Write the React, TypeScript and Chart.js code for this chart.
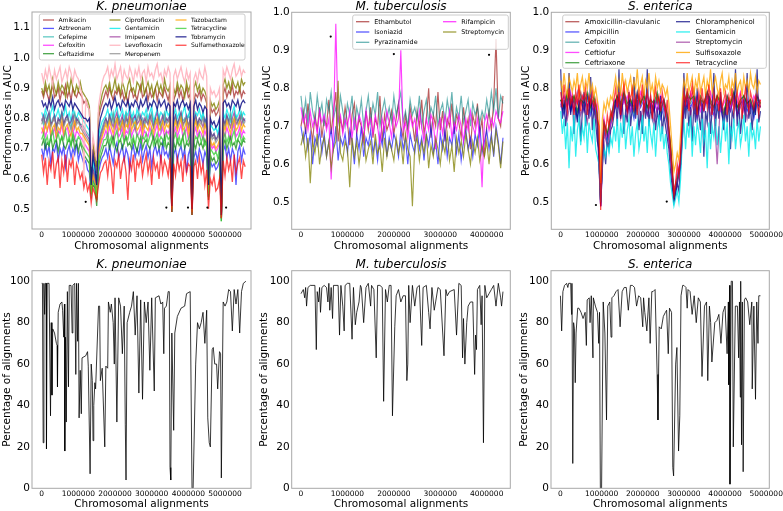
import React, { useEffect, useRef } from "react";
import { Chart, registerables } from "chart.js";
Chart.register(...registerables);

const FONT = '"DejaVu Sans", sans-serif';

// ---------------- K. pneumoniae (AUC) ----------------
const KP_X = [0,5e4,10e4,15e4,20e4,25e4,30e4,35e4,40e4,45e4,50e4,55e4,60e4,65e4,70e4,75e4,80e4,85e4,90e4,95e4,100e4,105e4,110e4,115e4,120e4,125e4,130e4,135e4,140e4,145e4,150e4,155e4,160e4,165e4,170e4,175e4,180e4,185e4,190e4,195e4,200e4,205e4,210e4,215e4,220e4,225e4,230e4,235e4,240e4,245e4,250e4,255e4,260e4,265e4,270e4,275e4,280e4,285e4,290e4,295e4,300e4,305e4,310e4,315e4,320e4,325e4,330e4,335e4,340e4,345e4,350e4,355e4,360e4,365e4,370e4,375e4,380e4,385e4,390e4,395e4,400e4,405e4,410e4,415e4,420e4,425e4,430e4,435e4,440e4,445e4,450e4,455e4,460e4,465e4,470e4,475e4,480e4,485e4,490e4,495e4,500e4,505e4,510e4,515e4,520e4,525e4,530e4,535e4,540e4,545e4,550e4,555e4];
const KP_NAMES = ["Amikacin","Aztreonam","Cefepime","Cefoxitin","Ceftazidime","Ciprofloxacin","Gentamicin","Imipenem","Levofloxacin","Meropenem","Tazobactam","Tetracycline","Tobramycin","Sulfamethoxazole"];
const KP_AMIKACIN = [.89,.87,.90,.88,.86,.89,.91,.87,.88,.90,.86,.89,.88,.91,.87,.89,.86,.90,.88,.87,.89,.88, .87,.85,.86,.84,.83, .60, .70,.66, .62, .80,.83,.85,.87, .89,.87,.90,.88,.86,.89,.88,.90,.87,.89,.86,.88,.85,.89,.90,.87,.88,.86,.89,.91,.87,.88,.90,.86,.89,.87,.88,.90,.86,.89,.88,.87,.90,.88,.86,.89, .52, .86,.88,.90,.87,.89,.86,.88,.90,.87,.88, .51, .86,.88,.87,.89,.86,.88,.87,.85, .60, .84,.82,.83,.81,.82,.84, .50, .88,.90,.87,.89,.88,.91,.87,.89,.88,.90,.87,.89,.88];
const KP_AZTREONAM = [.70,.67,.72,.68,.71,.65,.70,.69,.72,.66,.70,.68,.71,.64,.69,.71,.67,.70,.68,.72,.66,.69, .67,.65,.66,.63,.62, .55, .60,.58, .53, .62,.65,.67,.68, .70,.67,.71,.68,.65,.70,.72,.67,.69,.71,.66,.70,.68,.63,.69,.71,.67,.70,.68,.72,.66,.69,.71,.67,.70,.64,.69,.71,.68,.70,.66,.72,.68,.69,.67,.70, .49, .68,.70,.66,.69,.71,.67,.70,.62,.68,.70, .48, .67,.69,.66,.70,.68,.65,.69,.67, .54, .66,.64,.65,.63,.64,.66, .47, .69,.71,.67,.70,.66,.70,.68,.58,.69,.71,.66,.70,.68];
const KP_CEFEPIME = [.80,.78,.81,.79,.82,.78,.80,.81,.77,.80,.79,.82,.78,.80,.81,.79,.77,.80,.82,.79,.80,.78, .78,.77,.76,.75,.74, .56, .64,.62, .55, .72,.75,.77,.79, .80,.78,.81,.79,.82,.78,.80,.81,.77,.80,.79,.82,.78,.80,.81,.79,.77,.80,.82,.79,.80,.78,.81,.79,.80,.82,.78,.80,.79,.81,.77,.80,.82,.79,.80,.81, .50, .79,.81,.78,.80,.82,.79,.80,.78,.81,.80, .49, .79,.81,.78,.80,.79,.81,.78,.80, .56, .76,.74,.75,.73,.74,.76, .47, .80,.78,.81,.79,.82,.78,.80,.81,.79,.80,.82,.79,.80];
const KP_CEFOXITIN = [.75,.77,.74,.76,.78,.74,.75,.77,.73,.76,.75,.78,.74,.76,.77,.74,.75,.77,.73,.76,.75,.74, .73,.72,.71,.70,.69, .55, .62,.60, .54, .68,.71,.73,.74, .76,.74,.77,.75,.73,.76,.78,.74,.75,.77,.73,.76,.75,.78,.74,.76,.77,.74,.75,.77,.73,.76,.75,.74,.77,.75,.73,.76,.78,.74,.75,.77,.74,.76,.75,.77, .50, .75,.77,.74,.76,.78,.74,.75,.77,.73,.76, .49, .75,.77,.74,.76,.75,.73,.76,.74, .55, .72,.70,.71,.69,.70,.72, .47, .76,.74,.77,.75,.73,.76,.78,.74,.75,.77,.74,.76,.75];
const KP_CEFTAZIDIME = [.71,.73,.70,.72,.71,.74,.70,.72,.73,.69,.72,.74,.71,.70,.72,.73,.71,.74,.70,.72,.69,.72, .70,.68,.67,.66,.65, .56, .58,.57, .51, .64,.67,.69,.71, .71,.73,.70,.72,.74,.71,.69,.72,.73,.70,.72,.74,.71,.72,.70,.73,.71,.69,.72,.74,.70,.72,.73,.71,.70,.72,.74,.71,.73,.70,.72,.71,.74,.70,.72,.71, .49, .72,.70,.73,.71,.72,.74,.70,.72,.71,.73, .48, .72,.70,.73,.71,.72,.70,.73,.71, .53, .68,.66,.67,.65,.66,.68, .46, .71,.73,.70,.72,.74,.71,.72,.70,.73,.72,.71,.73,.72];
const KP_CIPROFLOXACIN = [.90,.88,.92,.89,.91,.87,.93,.90,.88,.92,.89,.91,.90,.87,.92,.89,.93,.90,.88,.91,.89,.92, .89,.88,.87,.86,.84, .62, .72,.68, .64, .82,.85,.88,.90, .91,.89,.92,.88,.90,.93,.89,.91,.88,.92,.90,.87,.91,.93,.89,.90,.88,.92,.91,.89,.93,.88,.90,.92,.89,.91,.87,.90,.92,.89,.91,.88,.93,.90,.89,.91, .53, .90,.88,.92,.89,.91,.90,.87,.92,.89,.91, .52, .90,.92,.89,.91,.88,.90,.89,.87, .62, .86,.84,.85,.83,.84,.86, .50, .91,.93,.90,.92,.89,.93,.91,.90,.92,.89,.93,.91,.92];
const KP_GENTAMICIN = [.82,.80,.83,.81,.79,.82,.84,.80,.81,.83,.80,.82,.81,.84,.80,.82,.79,.83,.81,.80,.82,.81, .80,.79,.78,.77,.76, .57, .66,.63, .56, .74,.77,.79,.80, .81,.83,.80,.82,.79,.82,.84,.80,.81,.83,.80,.82,.81,.84,.80,.82,.79,.83,.81,.80,.82,.81,.83,.80,.82,.84,.79,.81,.83,.80,.82,.81,.79,.83,.81,.82, .51, .81,.83,.80,.82,.79,.82,.84,.80,.81,.83, .50, .80,.82,.81,.83,.80,.82,.79,.80, .62, .78,.77,.76,.77,.75,.78, .48, .82,.80,.83,.81,.79,.82,.84,.80,.81,.83,.80,.82,.81];
const KP_IMIPENEM = [.79,.81,.78,.80,.82,.78,.79,.81,.77,.80,.79,.82,.78,.80,.81,.78,.79,.81,.77,.80,.79,.78, .77,.76,.75,.74,.73, .56, .63,.61, .55, .71,.74,.76,.78, .80,.78,.81,.79,.77,.80,.82,.78,.79,.81,.77,.80,.79,.82,.78,.80,.81,.78,.79,.81,.77,.80,.79,.78,.81,.79,.77,.80,.82,.78,.79,.81,.78,.80,.79,.81, .50, .79,.81,.78,.80,.82,.78,.79,.81,.77,.80, .50, .79,.81,.78,.80,.79,.77,.80,.78, .57, .76,.74,.75,.73,.74,.76, .48, .80,.78,.81,.79,.77,.80,.82,.78,.79,.81,.78,.80,.79];
const KP_LEVOFLOXACIN = [.95,.92,.96,.93,.97,.94,.91,.96,.93,.95,.97,.92,.94,.96,.93,.97,.95,.92,.96,.94,.93,.90, .88,.60,.86,.84,.83, .64, .74,.70, .66, .84,.88,.92,.94, .95,.97,.93,.96,.94,.98,.93,.95,.97,.92,.96,.94,.93,.97,.95,.92,.96,.94,.97,.93,.95,.96,.92,.97,.94,.95,.93,.96,.98,.94,.95,.92,.96,.94,.97,.95, .56, .94,.96,.93,.95,.97,.94,.92,.96,.93,.95, .55, .93,.95,.92,.96,.94,.93,.97,.94, .64, .90,.88,.89,.87,.88,.90, .52, .96,.94,.97,.95,.93,.96,.98,.94,.95,.97,.94,.96,.95];
const KP_MEROPENEM = [.78,.80,.77,.79,.81,.77,.79,.80,.76,.79,.78,.81,.77,.79,.80,.78,.76,.79,.81,.78,.79,.77, .76,.75,.74,.73,.72, .55, .62,.60, .54, .70,.73,.75,.77, .79,.77,.80,.78,.81,.77,.79,.80,.76,.79,.78,.81,.77,.79,.80,.78,.76,.79,.81,.78,.79,.77,.80,.78,.79,.81,.77,.79,.78,.80,.76,.79,.81,.78,.79,.80, .50, .78,.80,.77,.79,.81,.77,.79,.80,.78,.79, .49, .78,.80,.77,.79,.78,.80,.77,.79, .56, .75,.73,.74,.72,.73,.75, .47, .79,.77,.80,.78,.81,.77,.79,.80,.78,.79,.81,.78,.79];
const KP_TAZOBACTAM = [.77,.75,.78,.76,.79,.75,.77,.78,.74,.77,.76,.79,.75,.77,.78,.76,.74,.77,.79,.76,.77,.75, .75,.74,.73,.72,.71, .55, .61,.59, .54, .69,.72,.74,.76, .78,.76,.79,.77,.75,.78,.80,.76,.77,.79,.75,.78,.77,.80,.76,.78,.79,.76,.77,.79,.75,.78,.77,.76,.79,.77,.75,.78,.80,.76,.77,.79,.76,.78,.77,.79, .50, .77,.79,.76,.78,.80,.76,.77,.79,.75,.78, .49, .77,.79,.76,.78,.77,.75,.78,.76, .55, .73,.71,.72,.70,.71,.73, .47, .78,.76,.79,.77,.75,.78,.80,.76,.77,.79,.76,.78,.77];
const KP_TETRACYCLINE = [.73,.75,.72,.74,.71,.74,.76,.72,.73,.75,.72,.74,.73,.76,.72,.74,.71,.75,.73,.72,.74,.73, .71,.70,.69,.68,.67, .55, .59,.58, .53, .66,.69,.71,.73, .73,.75,.72,.74,.71,.74,.76,.72,.73,.75,.72,.74,.73,.76,.72,.74,.71,.75,.73,.72,.74,.73,.75,.72,.74,.76,.71,.73,.75,.72,.74,.73,.71,.75,.73,.74, .49, .73,.75,.72,.74,.71,.74,.76,.72,.73,.75, .48, .72,.74,.73,.75,.72,.74,.71,.72, .54, .70,.69,.68,.69,.67,.70, .46, .73,.75,.72,.74,.71,.74,.76,.72,.73,.75,.72,.74,.73];
const KP_TOBRAMYCIN = [.86,.84,.85,.83,.86,.84,.87,.83,.85,.86,.84,.85,.83,.86,.85,.84,.86,.83,.85,.84,.83,.82, .81,.80,.80,.79,.80, .58, .68,.64, .58, .76,.80,.82,.84, .85,.84,.86,.83,.85,.87,.84,.85,.83,.86,.85,.84,.86,.83,.85,.84,.86,.85,.83,.86,.84,.85,.87,.83,.85,.84,.86,.85,.83,.86,.84,.85,.86,.83,.85,.84, .51, .85,.84,.86,.83,.85,.86,.84,.85,.83,.85, .50, .84,.86,.83,.85,.84,.82,.84,.83, .58, .80,.78,.79,.77,.78,.80, .48, .85,.86,.84,.85,.83,.86,.85,.84,.86,.83,.85,.86,.85];
const KP_SULFAMETHOXAZOLE = [.68,.62,.67,.58,.66,.63,.69,.60,.65,.67,.57,.66,.62,.68,.59,.66,.64,.67,.58,.65,.63,.60, .62,.57,.60,.56,.58, .52, .57,.55, .53, .58,.62,.63,.65, .66,.61,.67,.63,.55,.66,.64,.68,.60,.65,.67,.62,.53,.66,.63,.68,.59,.66,.64,.67,.61,.65,.68,.62,.66,.58,.67,.63,.65,.60,.68,.62,.66,.64,.61,.67, .49, .65,.61,.67,.63,.66,.59,.68,.62,.65,.64, .48, .64,.66,.60,.67,.62,.65,.58,.63, .50, .60,.58,.61,.56,.57,.60, .47, .66,.61,.67,.63,.66,.59,.68,.62,.65,.67,.60,.66,.64];
const KP_SERIES = [KP_AMIKACIN,KP_AZTREONAM,KP_CEFEPIME,KP_CEFOXITIN,KP_CEFTAZIDIME,KP_CIPROFLOXACIN,KP_GENTAMICIN,KP_IMIPENEM,KP_LEVOFLOXACIN,KP_MEROPENEM,KP_TAZOBACTAM,KP_TETRACYCLINE,KP_TOBRAMYCIN,KP_SULFAMETHOXAZOLE];
const KP_DOT_X = [1.2e6,3.4e6,3.99e6,4.52e6,5.03e6];
const KP_DOT_Y = [0.524,0.505,0.505,0.505,0.505];

// ---------------- M. tuberculosis (AUC) ----------------
const MT_X = [0,5e4,10e4,15e4,20e4,25e4,30e4,35e4,40e4,45e4,50e4,55e4,60e4,65e4,70e4,75e4,80e4,85e4,90e4,95e4,100e4,105e4,110e4,115e4,120e4,125e4,130e4,135e4,140e4,145e4,150e4,155e4,160e4,165e4,170e4,175e4,180e4,185e4,190e4,195e4,200e4,205e4,210e4,215e4,220e4,225e4,230e4,235e4,240e4,245e4,250e4,255e4,260e4,265e4,270e4,275e4,280e4,285e4,290e4,295e4,300e4,305e4,310e4,315e4,320e4,325e4,330e4,335e4,340e4,345e4,350e4,355e4,360e4,365e4,370e4,375e4,380e4,385e4,390e4,395e4,400e4,405e4,410e4,415e4,420e4,425e4,430e4,435e4];
const MT_NAMES = ["Ethambutol","Isoniazid","Pyrazinamide","Rifampicin","Streptomycin"];
const MT_ETHAMBUTOL = [.70,.74,.68,.76,.71,.66,.73,.69,.75,.67,.72,.70,.77,.68,.74,.79,.66,.72,.69,.75,.71,.65,.73,.76,.68,.72,.70,.66,.74,.69,.75,.67,.72,.70,.78,.66,.73,.69,.71,.74,.68,.72,.76,.70,.67,.73,.69,.75,.71,.66,.74,.70,.77,.68,.72,.80,.67,.73,.70,.79,.69,.74,.66,.72,.70,.76,.68,.73,.71,.67,.75,.69,.72,.64,.73,.70,.76,.68,.72,.62,.70,.74,.69,.76,.93,.72,.70,.78];
const MT_ISONIAZID = [.70,.66,.69,.64,.68,.60,.67,.65,.69,.63,.68,.62,.66,.69,.64,.70,.61,.67,.65,.68,.63,.69,.66,.60,.68,.64,.70,.62,.67,.65,.69,.63,.66,.61,.68,.65,.70,.62,.67,.64,.68,.66,.62,.69,.64,.67,.60,.68,.65,.63,.69,.64,.67,.61,.68,.65,.70,.63,.66,.60,.68,.64,.69,.62,.67,.65,.70,.63,.68,.61,.66,.69,.64,.67,.62,.68,.65,.70,.63,.66,.69,.64,.68,.62,.70,.66,.60,.67];
const MT_PYRAZINAMIDE = [.78,.72,.77,.70,.79,.74,.71,.78,.73,.76,.70,.77,.74,.79,.72,.75,.71,.78,.74,.70,.76,.73,.78,.69,.75,.72,.77,.70,.74,.78,.71,.76,.73,.79,.70,.74,.77,.72,.75,.71,.78,.73,.76,.79,.71,.74,.70,.77,.73,.75,.72,.78,.70,.74,.77,.71,.75,.73,.78,.70,.74,.76,.71,.77,.73,.79,.70,.75,.72,.78,.71,.74,.77,.70,.76,.73,.75,.71,.74,.72,.77,.73,.79,.74,.80,.72,.78,.76];
const MT_RIFAMPICIN = [.75,.71,.73,.69,.74,.70,.72,.68,.74,.71,.73,.69,.72,.56,.70,.97,.71,.73,.68,.72,.70,.74,.67,.72,.69,.73,.71,.66,.74,.70,.72,.68,.73,.70,.65,.72,.69,.74,.71,.67,.73,.70,.72,.90,.69,.71,.67,.73,.70,.72,.68,.74,.70,.66,.72,.69,.73,.71,.64,.70,.72,.68,.73,.70,.74,.67,.71,.69,.73,.70,.66,.72,.69,.74,.70,.68,.72,.67,.54,.71,.73,.69,.72,.70,.74,.72,.71,.74];
const MT_STREPTOMYCIN = [.65,.68,.62,.67,.55,.66,.63,.68,.60,.65,.67,.62,.66,.59,.64,.66,.82,.63,.61,.66,.64,.54,.67,.62,.66,.60,.65,.68,.61,.64,.66,.60,.68,.63,.65,.58,.67,.62,.66,.64,.61,.67,.63,.66,.60,.68,.64,.62,.49,.65,.67,.61,.66,.63,.68,.59,.65,.62,.67,.64,.60,.66,.63,.68,.61,.65,.58,.67,.63,.66,.62,.68,.64,.60,.66,.63,.67,.61,.65,.62,.66,.60,.67,.63,.69,.65,.59,.66];
const MT_SERIES = [MT_ETHAMBUTOL,MT_ISONIAZID,MT_PYRAZINAMIDE,MT_RIFAMPICIN,MT_STREPTOMYCIN];
const MT_DOT_X = [0.64e6,2.0e6,4.05e6];
const MT_DOT_Y = [0.936,0.89,0.888];

// ---------------- S. enterica (AUC) ----------------
const SE_X = [0,81e3,162e3,243e3,324e3,405e3,486e3,567e3,648e3,729e3,810e3,891e3,972e3,1053e3,1134e3,1215e3,1296e3,1377e3,1458e3,1539e3,1620e3,1701e3,1782e3,1863e3,1944e3,2025e3,2106e3,2187e3,2268e3,2349e3,2430e3,2511e3,2592e3,2673e3,2754e3,2835e3,2916e3,2997e3,3078e3,3159e3,3240e3,3321e3,3402e3,3483e3,3564e3,3645e3,3726e3,3807e3,3888e3,3969e3,4050e3,4131e3,4212e3,4293e3,4374e3,4455e3,4536e3,4617e3,4698e3,4779e3,4860e3];
const SE_X_FINE = [0,40500,81000,121500,162000,202500,243000,283500,324000,364500,405000,445500,486000,526500,567000,607500,648000,688500,729000,769500,810000,850500,891000,931500,972000,1012500,1053000,1093500,1134000,1174500,1215000,1255500,1296000,1336500,1377000,1417500,1458000,1498500,1539000,1579500,1620000,1660500,1701000,1741500,1782000,1822500,1863000,1903500,1944000,1984500,2025000,2065500,2106000,2146500,2187000,2227500,2268000,2308500,2349000,2389500,2430000,2470500,2511000,2551500,2592000,2632500,2673000,2713500,2754000,2794500,2835000,2875500,2916000,2956500,2997000,3037500,3078000,3118500,3159000,3199500,3240000,3280500,3321000,3361500,3402000,3442500,3483000,3523500,3564000,3604500,3645000,3685500,3726000,3766500,3807000,3847500,3888000,3928500,3969000,4009500,4050000,4090500,4131000,4171500,4212000,4252500,4293000,4333500,4374000,4414500,4455000,4495500,4536000,4576500,4617000,4657500,4698000,4738500,4779000,4819500,4860000];
const SE_NAMES = ["Amoxicillin-clavulanic","Ampicillin","Cefoxitin","Ceftiofur","Ceftriaxone","Chloramphenicol","Gentamicin","Streptomycin","Sulfisoxazole","Tetracycline"];
const SE_AMOXICILLIN = [.77,.75,.79,.74,.78,.76,.79,.74,.78,.75,.77,.73,.50,.71,.68,.73,.75,.78,.76,.79,.74,.77,.75,.78,.76,.79,.75,.77,.74,.78,.76,.77,.73,.65,.53,.57,.61,.75,.78,.77,.80,.74,.77,.76,.79,.76,.75,.78,.77,.74,.77,.76,.79,.75,.76,.78,.76,.77,.74,.78,.75];
const SE_AMPICILLIN = [.76,.73,.78,.74,.77,.72,.77,.74,.78,.73,.76,.71,.49,.69,.66,.71,.74,.77,.73,.78,.74,.76,.72,.78,.75,.77,.73,.76,.74,.77,.72,.75,.71,.63,.51,.55,.59,.73,.78,.75,.77,.72,.77,.74,.78,.75,.73,.77,.75,.71,.77,.74,.78,.73,.76,.77,.74,.76,.72,.76,.75];
const SE_CEFOXITIN = [.77,.74,.78,.75,.77,.73,.78,.75,.77,.74,.76,.72,.50,.70,.67,.72,.75,.78,.74,.78,.75,.77,.73,.78,.76,.78,.74,.76,.75,.78,.73,.76,.72,.64,.52,.56,.60,.74,.78,.76,.78,.73,.77,.75,.79,.76,.74,.78,.76,.72,.78,.75,.78,.74,.76,.78,.75,.77,.73,.77,.76];
const SE_CEFTIOFUR = [.76,.78,.75,.79,.74,.77,.76,.79,.75,.77,.74,.76,.49,.72,.67,.71,.77,.75,.79,.76,.78,.74,.77,.75,.79,.76,.78,.75,.77,.74,.78,.75,.73,.63,.50,.57,.62,.77,.75,.79,.76,.78,.74,.77,.76,.79,.75,.77,.74,.76,.78,.75,.77,.76,.79,.74,.77,.75,.78,.76,.77];
const SE_CEFTRIAXONE = [.77,.75,.79,.76,.78,.74,.77,.76,.79,.75,.78,.73,.50,.71,.68,.72,.76,.78,.75,.79,.76,.77,.74,.79,.76,.78,.75,.77,.76,.79,.74,.77,.73,.65,.51,.56,.61,.76,.79,.77,.78,.74,.78,.76,.79,.77,.75,.78,.76,.73,.78,.76,.79,.75,.77,.78,.76,.77,.74,.78,.76];
const SE_CHLORAMPHENICOL = [.85,.72,.77,.70,.75,.84,.73,.78,.68,.75,.71,.77,.66,.74,.79,.70,.76,.72,.83,.69,.75,.71,.66,.64, .49, .62,.65,.60,.67,.64,.69,.70, .73,.77,.70,.85,.72,.76,.68,.74,.71,.79,.70,.75,.83,.72,.77,.69,.74,.68,.76,.72,.85,.70,.75,.72,.77,.69,.74,.71,.78,.68,.73,.70,.67,.64, .58,.54,.50,.52,.55,.53,.60, .70,.84,.72,.77,.70,.75,.66,.76,.71,.80,.73,.69,.76,.62,.74,.71,.78,.68,.75,.84,.70,.76,.72,.79,.73,.69,.75,.71,.77,.64,.74,.72,.85,.70,.76,.68,.73,.77,.71,.84,.72,.75,.69,.76,.73,.85,.71,.74];
const SE_GENTAMICIN = [.74,.68,.72,.64,.71,.59,.70,.66,.73,.62,.69,.72,.65,.70,.67,.73,.63,.71,.68,.66,.72,.64,.62,.60, .50, .60,.64,.62,.66,.63,.67,.65, .70,.66,.72,.63,.71,.67,.73,.64,.69,.72,.65,.70,.62,.68,.71,.64,.67,.73,.66,.70,.63,.72,.68,.65,.71,.62,.69,.73,.66,.70,.64,.68,.63,.60, .55,.52,.49,.51,.53,.50,.56, .66,.72,.64,.71,.67,.73,.62,.70,.65,.71,.68,.63,.72,.66,.69,.59,.71,.64,.70,.67,.72,.65,.70,.63,.69,.73,.66,.71,.60,.70,.67,.72,.64,.69,.71,.65,.68,.73,.66,.70,.62,.71,.67,.69,.64,.72,.66,.70];
const SE_STREPTOMYCIN = [.75,.78,.72,.77,.74,.79,.73,.76,.71,.77,.75,.70,.49,.68,.65,.70,.74,.77,.72,.78,.73,.76,.74,.79,.72,.76,.73,.78,.71,.75,.74,.77,.70,.62,.52,.55,.60,.75,.78,.73,.77,.72,.76,.74,.79,.73,.75,.60,.77,.72,.76,.74,.78,.73,.75,.77,.72,.76,.74,.79,.75];
const SE_SULFISOXAZOLE = [.82,.79,.84,.80,.78,.83,.81,.79,.82,.80,.84,.78,.81,.83,.79,.82,.80,.84,.79,.81,.78,.80,.77,.74, .55, .72,.76,.74,.77,.75,.78,.77, .80,.83,.79,.82,.78,.84,.80,.82,.79,.81,.83,.78,.82,.80,.85,.79,.81,.83,.78,.82,.80,.84,.79,.81,.78,.83,.80,.82,.79,.81,.80,.78,.80,.76, .70,.64,.58,.60,.63,.61,.68, .77,.82,.80,.84,.79,.81,.83,.78,.82,.80,.84,.79,.81,.83,.78,.82,.80,.85,.79,.81,.83,.80,.78,.82,.84,.79,.81,.80,.83,.78,.82,.80,.84,.79,.81,.82,.78,.83,.80,.82,.79,.84,.81,.80,.83,.79,.82,.81];
const SE_TETRACYCLINE = [.79,.75,.81,.77,.74,.80,.76,.78,.73,.79,.76,.81,.74,.78,.77,.80,.73,.78,.76,.79,.75,.77,.72,.70, .48, .66,.71,.68,.73,.70,.74,.72, .77,.80,.75,.79,.73,.78,.81,.76,.74,.79,.77,.80,.75,.78,.73,.79,.76,.81,.74,.77,.79,.75,.78,.72,.77,.80,.76,.78,.74,.79,.76,.73,.77,.70, .64,.58,.52,.55,.60,.57,.63, .72,.79,.76,.80,.74,.78,.81,.75,.77,.73,.79,.76,.80,.74,.78,.75,.81,.77,.73,.79,.76,.78,.74,.80,.75,.77,.79,.73,.78,.76,.80,.74,.77,.79,.75,.78,.72,.77,.80,.76,.74,.79,.77,.75,.78,.76,.73,.77];
const SE_SERIES = [SE_AMOXICILLIN,SE_AMPICILLIN,SE_CEFOXITIN,SE_CEFTIOFUR,SE_CEFTRIAXONE,SE_CHLORAMPHENICOL,SE_GENTAMICIN,SE_STREPTOMYCIN,SE_SULFISOXAZOLE,SE_TETRACYCLINE];
const SE_SERIES_X = [SE_X,SE_X,SE_X,SE_X,SE_X,SE_X_FINE,SE_X_FINE,SE_X,SE_X_FINE,SE_X_FINE];
const SE_DOT_X = [0.857e6,2.58e6];
const SE_DOT_Y = [0.493,0.502];

// ---------------- Coverage (percentage of alignments) ----------------
const KP_COV_X = [0,2e4,4e4,6e4,8e4,10e4,12e4,13e4,15e4,20e4,22e4,24e4,26e4,28e4,30e4,35e4,40e4,42e4,43e4,45e4,50e4,55e4,57e4,60e4,62e4,63e4,65e4,67e4,70e4,73e4,75e4,80e4,83e4,85e4,90e4,93e4,95e4,98e4,100e4,102e4,105e4,108e4,110e4,120e4,125e4,127e4,132e4,135e4,138e4,140e4,142e4,145e4,147e4,155e4,158e4,160e4,165e4,172e4,175e4,180e4,182e4,187e4,190e4,195e4,198e4,200e4,205e4,210e4,215e4,220e4,225e4,228e4,230e4,233e4,240e4,245e4,250e4,255e4,260e4,265e4,270e4,275e4,280e4,285e4,290e4,295e4,300e4,307e4,310e4,320e4,325e4,330e4,333e4,335e4,340e4,345e4,348e4,350e4,352e4,355e4,360e4,363e4,370e4,380e4,390e4,395e4,405e4,410e4,413e4,420e4,425e4,430e4,435e4,440e4,445e4,450e4,453e4,457e4,460e4,465e4,468e4,472e4,477e4,480e4,485e4,488e4,490e4,495e4,500e4,505e4,510e4,515e4,520e4,525e4,530e4,535e4,540e4,545e4,550e4,557e4];
const KP_COV = [99,99,22,99,84,99,99,19,99,99,99,35,80,45,77,75,70,69,49,85,89,90,86,73,89,18,73,32,95,49,98,98,75,98,99,55,99,71,99,34,57,36,63,64,66,59,7,60,52,23,40,51,48,88,88,52,58,20,59,58,90,85,89,80,60,92,32,92,88,65,88,31,4,80,85,88,95,74,93,46,91,43,90,80,90,57,92,47,92,93,89,90,65,87,88,95,95,10,4,75,28,75,83,87,88,94,95,0,0,60,80,77,80,85,70,86,34,22,20,67,68,60,60,48,66,65,5,90,88,90,96,95,76,96,89,96,75,95,99,100];
const MT_COV_X = [0,5e4,8e4,10e4,12e4,15e4,20e4,30e4,33e4,35e4,38e4,40e4,42e4,45e4,50e4,55e4,58e4,60e4,62e4,65e4,68e4,70e4,80e4,83e4,86e4,90e4,93e4,95e4,100e4,105e4,110e4,113e4,117e4,120e4,125e4,128e4,130e4,135e4,140e4,145e4,150e4,152e4,157e4,162e4,165e4,170e4,175e4,178e4,182e4,186e4,190e4,194e4,197e4,202e4,205e4,210e4,215e4,220e4,225e4,228e4,230e4,232e4,235e4,240e4,245e4,250e4,255e4,260e4,263e4,270e4,275e4,278e4,282e4,287e4,290e4,295e4,300e4,308e4,312e4,315e4,320e4,330e4,335e4,340e4,345e4,348e4,350e4,353e4,357e4,360e4,365e4,370e4,374e4,376e4,378e4,380e4,385e4,388e4,390e4,393e4,396e4,400e4,405e4,410e4,415e4,420e4,425e4,430e4,432e4,435e4];
const MT_COV = [94,96,92,97,88,97,98,98,67,95,90,97,85,97,98,97,90,99,86,97,82,98,98,74,98,88,76,98,99,99,72,97,79,85,90,98,97,80,97,99,88,98,96,63,98,98,97,42,96,90,98,98,35,78,93,96,90,93,93,52,60,98,80,98,88,97,98,69,97,98,85,77,97,86,90,97,96,64,96,93,95,96,74,99,98,63,82,60,80,88,90,90,55,74,67,96,98,79,93,22,98,92,94,96,98,88,99,92,88,95];
const SE_COV_X = [0,3e4,6e4,10e4,15e4,18e4,20e4,25e4,27e4,28e4,30e4,32e4,34e4,36e4,38e4,42e4,45e4,50e4,55e4,60e4,63e4,65e4,70e4,72e4,75e4,79e4,80e4,85e4,90e4,93e4,95e4,97e4,100e4,104e4,108e4,112e4,115e4,120e4,123e4,125e4,130e4,135e4,140e4,145e4,150e4,155e4,160e4,165e4,170e4,175e4,180e4,185e4,190e4,195e4,200e4,202e4,205e4,210e4,215e4,218e4,222e4,225e4,230e4,235e4,237e4,240e4,245e4,250e4,255e4,258e4,262e4,265e4,270e4,273e4,275e4,280e4,283e4,287e4,290e4,293e4,297e4,300e4,305e4,308e4,310e4,315e4,320e4,325e4,330e4,335e4,340e4,344e4,350e4,355e4,358e4,362e4,365e4,368e4,375e4,380e4,385e4,390e4,395e4,400e4,405e4,408e4,409e4,411e4,412e4,415e4,418e4,420e4,425e4,430e4,433e4,435e4,437e4,438e4,440e4,442e4,444e4,447e4,450e4,455e4,460e4,465e4,466e4,470e4,474e4,477e4,480e4,482e4,486e4];
const SE_COV = [93,76,95,98,99,97,99,99,84,99,12,80,77,51,75,87,87,85,82,85,69,91,92,80,93,63,92,88,85,70,85,0,0,90,75,33,88,90,73,92,93,95,96,78,95,97,97,86,98,98,97,88,93,92,78,92,85,76,92,70,95,95,96,55,33,78,77,83,85,86,65,87,85,10,6,60,68,18,35,93,98,98,97,87,96,95,84,93,80,92,90,54,88,90,52,88,80,61,80,81,84,70,85,88,65,90,50,98,2,100,100,20,88,88,63,90,44,100,21,90,8,91,92,90,79,90,48,88,43,90,70,93,93];

const AUC_TICKS_KP = [0.5,0.6,0.7,0.8,0.9,1.0,1.1];
const AUC_TICKS = [0.5,0.6,0.7,0.8,0.9,1.0];
const COV_TICKS = [0,20,40,60,80,100];
const X_TICKS_KP = [0,1e6,2e6,3e6,4e6,5e6];
const X_TICKS_MT = [0,1e6,2e6,3e6,4e6];
const X_TICKS_SE = [0,1e6,2e6,3e6,4e6,5e6];

// ---------------- styles ----------------
const KP_COLORS = ["rgba(165,42,42,0.75)","rgba(0,0,255,0.65)","rgba(32,178,170,0.7)","rgba(255,0,255,0.7)","rgba(0,128,0,0.7)","rgba(128,128,0,0.8)","rgba(0,235,235,0.8)","rgba(128,0,128,0.6)","rgba(255,182,193,0.95)","rgba(128,128,128,0.7)","rgba(255,165,0,0.8)","rgba(50,205,50,0.75)","rgba(0,0,128,0.8)","rgba(255,0,0,0.7)"];
const MT_COLORS = ["rgba(165,42,42,0.75)","rgba(0,0,255,0.65)","rgba(0,128,128,0.6)","rgba(255,0,255,0.75)","rgba(128,128,0,0.75)"];
const SE_COLORS = ["rgba(165,42,42,0.75)","rgba(0,0,255,0.65)","rgba(0,128,128,0.6)","rgba(255,0,255,0.7)","rgba(0,128,0,0.7)","rgba(0,0,128,0.75)","rgba(0,235,235,0.8)","rgba(128,0,128,0.6)","rgba(255,165,0,0.8)","rgba(255,0,0,0.7)"];
const COV_COLOR = "rgba(0,0,0,0.78)";

const AXIS_TITLE_SIZE = 10.5;
const TICK_Y_SIZE = 10.5;
const TICK_X_SIZE = 7.5;

type Rect = { x: number; y: number; w: number; h: number };
type Area = { l: number; t: number; r: number; b: number };
type LegendSpec = { box: [number, number, number, number]; font: number; rowY0: number; rowStep: number; cols: number[]; hlen: number; tgap: number; perCol: number; names: string[]; colors: string[] };
type Panel = {
  key: string; title: string; canvas: Rect; area: Area;
  xMin: number; xMax: number; yMin: number; yMax: number;
  xTicks: number[]; yTicks: number[]; yFmt: (v: number) => string; yTitle: string;
  yTitleX: number; xTitleY: number; titleY: number; datasets: any[]; legend?: LegendSpec;
};

function lineSets(xsList: number[][], series: number[][], names: string[], colors: string[], width: number) {
  const n = series.length;
  return series.map((ys, i) => ({
    label: names[i],
    data: xsList[i].map((x, j) => ({ x, y: ys[j] })),
    borderColor: colors[i], borderWidth: width, pointRadius: 0, fill: false, tension: 0,
    order: n - 1 - i,
  }));
}
function dotSet(xs: number[], ys: number[]) {
  return { label: "dots", data: xs.map((x, j) => ({ x, y: ys[j] })), showLine: false, pointRadius: 1.1, pointBackgroundColor: "#000", pointBorderWidth: 0, order: -1 };
}
function covSet(xs: number[], ys: number[]) {
  return { label: "coverage", data: xs.map((x, j) => ({ x, y: ys[j] })), borderColor: COV_COLOR, borderWidth: 1, pointRadius: 0, fill: false, tension: 0 };
}

const f1 = (v: number) => v.toFixed(1);
const f0 = (v: number) => String(v);

const PANELS: Panel[] = [
  { key: "kp1", title: "K. pneumoniae", canvas: { x: 0, y: 0, w: 261, h: 256 }, area: { l: 32, t: 12, r: 251, b: 229 },
    xMin: -0.265e6, xMax: 5.709e6, yMin: 0.434, yMax: 1.152, xTicks: X_TICKS_KP, yTicks: AUC_TICKS_KP, yFmt: f1, yTitle: "Performances in AUC",
    yTitleX: 8.3, xTitleY: 246, titleY: 6.5,
    datasets: [...lineSets(KP_SERIES.map(() => KP_X), KP_SERIES, KP_NAMES, KP_COLORS, 1.3), dotSet(KP_DOT_X, KP_DOT_Y)],
    legend: { box: [39.3, 14, 205.7, 46], font: 6, rowY0: 20, rowStep: 8.42, cols: [43, 109.5, 175.5], hlen: 11, tgap: 4.5, perCol: 5, names: KP_NAMES, colors: KP_COLORS } },
  { key: "mt1", title: "M. tuberculosis", canvas: { x: 261, y: 0, w: 261, h: 256 }, area: { l: 291.7, t: 12.3, r: 510.3, b: 229.3 },
    xMin: -0.2e6, xMax: 4.508e6, yMin: 0.429, yMax: 1.0, xTicks: X_TICKS_MT, yTicks: AUC_TICKS, yFmt: f1, yTitle: "Performances in AUC",
    yTitleX: 267, xTitleY: 246, titleY: 6.5,
    datasets: [...lineSets(MT_SERIES.map(() => MT_X), MT_SERIES, MT_NAMES, MT_COLORS, 1.15), dotSet(MT_DOT_X, MT_DOT_Y)],
    legend: { box: [352.7, 15, 155.6, 34.3], font: 6.4, rowY0: 21.7, rowStep: 10.3, cols: [356, 443], hlen: 13.3, tgap: 5, perCol: 3, names: MT_NAMES, colors: MT_COLORS } },
  { key: "se1", title: "S. enterica", canvas: { x: 515, y: 0, w: 268, h: 256 }, area: { l: 551.3, t: 12.3, r: 769.3, b: 229.3 },
    xMin: -0.229e6, xMax: 5.075e6, yMin: 0.429, yMax: 1.0, xTicks: X_TICKS_SE, yTicks: AUC_TICKS, yFmt: f1, yTitle: "Performances in AUC",
    yTitleX: 526, xTitleY: 246, titleY: 6.5,
    datasets: [...lineSets(SE_SERIES_X, SE_SERIES, SE_NAMES, SE_COLORS, 1.25), dotSet(SE_DOT_X, SE_DOT_Y)],
    legend: { box: [562.7, 15, 203.6, 53.3], font: 7, rowY0: 21.7, rowStep: 10.25, cols: [565.3, 676], hlen: 14, tgap: 5.5, perCol: 5, names: SE_NAMES, colors: SE_COLORS } },
  { key: "kp2", title: "K. pneumoniae", canvas: { x: 0, y: 256, w: 261, h: 255 }, area: { l: 32, t: 270.7, r: 251, b: 488.3 },
    xMin: -0.265e6, xMax: 5.709e6, yMin: 0, yMax: 105.1, xTicks: X_TICKS_KP, yTicks: COV_TICKS, yFmt: f0, yTitle: "Percentage of alignments",
    yTitleX: 7.3, xTitleY: 504.3, titleY: 265,
    datasets: [covSet(KP_COV_X, KP_COV)] },
  { key: "mt2", title: "M. tuberculosis", canvas: { x: 256, y: 256, w: 266, h: 255 }, area: { l: 291.7, t: 270.7, r: 510.3, b: 488.3 },
    xMin: -0.2e6, xMax: 4.508e6, yMin: 0, yMax: 105.1, xTicks: X_TICKS_MT, yTicks: COV_TICKS, yFmt: f0, yTitle: "Percentage of alignments",
    yTitleX: 264, xTitleY: 504.3, titleY: 265,
    datasets: [covSet(MT_COV_X, MT_COV)] },
  { key: "se2", title: "S. enterica", canvas: { x: 515, y: 256, w: 268, h: 255 }, area: { l: 551, t: 270.7, r: 769.3, b: 488.3 },
    xMin: -0.229e6, xMax: 5.075e6, yMin: 0, yMax: 105.1, xTicks: X_TICKS_SE, yTicks: COV_TICKS, yFmt: f0, yTitle: "Percentage of alignments",
    yTitleX: 524.5, xTitleY: 504.3, titleY: 265,
    datasets: [covSet(SE_COV_X, SE_COV)] },
];

const decorPlugin = {
  id: "decor",
  afterDraw(chart: any, _args: any, opts: any) {
    const p: Panel = opts.panel;
    const { ctx, chartArea: a } = chart;
    const cv = p.canvas;
    ctx.save();
    ctx.strokeStyle = "#a8a8a8";
    ctx.lineWidth = 1;
    ctx.strokeRect(a.left, a.top, a.right - a.left, a.bottom - a.top);
    ctx.fillStyle = "#000";
    ctx.font = `italic 12px ${FONT}`;
    ctx.textAlign = "center";
    ctx.textBaseline = "middle";
    ctx.fillText(p.title, (a.left + a.right) / 2, p.titleY - cv.y);
    const lg = p.legend;
    if (lg) {
      const bx = lg.box[0] - cv.x, by = lg.box[1] - cv.y;
      ctx.beginPath();
      if (ctx.roundRect) ctx.roundRect(bx, by, lg.box[2], lg.box[3], 2);
      else ctx.rect(bx, by, lg.box[2], lg.box[3]);
      ctx.fillStyle = "rgba(255,255,255,0.8)";
      ctx.fill();
      ctx.strokeStyle = "#cccccc";
      ctx.lineWidth = 1;
      ctx.stroke();
      ctx.font = `${lg.font}px ${FONT}`;
      ctx.textAlign = "left";
      ctx.textBaseline = "middle";
      lg.names.forEach((name, i) => {
        const c = Math.floor(i / lg.perCol), r = i % lg.perCol;
        const hx = lg.cols[c] - cv.x;
        const y = lg.rowY0 + r * lg.rowStep - cv.y;
        ctx.strokeStyle = lg.colors[i];
        ctx.lineWidth = 1.3;
        ctx.beginPath();
        ctx.moveTo(hx, y);
        ctx.lineTo(hx + lg.hlen, y);
        ctx.stroke();
        ctx.fillStyle = "#000";
        ctx.fillText(name, hx + lg.hlen + lg.tgap, y + 0.3);
      });
    }
    ctx.restore();
  },
};

function makeChart(canvas: HTMLCanvasElement, p: Panel) {
  const cv = p.canvas, a = p.area;
  const yAxisW = a.l - cv.x;
  const xAxisH = cv.y + cv.h - a.b;
  const lh = AXIS_TITLE_SIZE * 1.2;
  return new Chart(canvas, {
    type: "line",
    data: { datasets: p.datasets },
    options: {
      responsive: false,
      animation: false,
      devicePixelRatio: 1,
      events: [],
      layout: { padding: { top: a.t - cv.y, right: cv.x + cv.w - a.r, left: 0, bottom: 0 } },
      plugins: {
        legend: { display: false },
        title: { display: false },
        tooltip: { enabled: false },
        decor: { panel: p },
      } as any,
      scales: {
        x: {
          type: "linear", position: "bottom", min: p.xMin, max: p.xMax,
          grid: { display: false, drawTicks: false }, border: { display: false },
          ticks: { autoSkip: false, maxRotation: 0, minRotation: 0, padding: 1.5, color: "#000", font: { family: FONT, size: TICK_X_SIZE }, callback: (v: any) => String(v) },
          afterBuildTicks: (s: any) => { s.ticks = p.xTicks.map((v) => ({ value: v })); },
          afterFit: (s: any) => { s.height = xAxisH; s.paddingLeft = 0; s.paddingRight = 0; },
          title: { display: true, text: "Chromosomal alignments", color: "#000", font: { family: FONT, size: AXIS_TITLE_SIZE }, padding: { top: 0, bottom: cv.y + cv.h - p.xTitleY - lh / 2 } },
        },
        y: {
          type: "linear", position: "left", min: p.yMin, max: p.yMax,
          grid: { display: false, drawTicks: false }, border: { display: false },
          ticks: { autoSkip: false, padding: 2, color: "#000", font: { family: FONT, size: TICK_Y_SIZE }, callback: (v: any) => p.yFmt(Number(v)) },
          afterBuildTicks: (s: any) => { s.ticks = p.yTicks.map((v) => ({ value: v })); },
          afterFit: (s: any) => { s.width = yAxisW; s.paddingTop = 0; s.paddingBottom = 0; },
          title: { display: true, text: p.yTitle, color: "#000", font: { family: FONT, size: AXIS_TITLE_SIZE }, padding: { top: p.yTitleX - cv.x - lh / 2, bottom: 0 } },
        },
      },
    } as any,
    plugins: [decorPlugin as any],
  });
}

export default function App() {
  const refs = useRef<(HTMLCanvasElement | null)[]>([]);
  useEffect(() => {
    const charts = PANELS.map((p, i) => makeChart(refs.current[i] as HTMLCanvasElement, p));
    return () => charts.forEach((c) => c.destroy());
  }, []);
  return (
    <div style={{ position: "fixed", left: 0, top: 0, width: 783, height: 511, background: "#fff", overflow: "hidden" }}>
      {PANELS.map((p, i) => (
        <canvas
          key={p.key}
          ref={(el) => { refs.current[i] = el; }}
          width={p.canvas.w}
          height={p.canvas.h}
          style={{ position: "absolute", left: p.canvas.x, top: p.canvas.y, width: p.canvas.w, height: p.canvas.h }}
        />
      ))}
    </div>
  );
}
